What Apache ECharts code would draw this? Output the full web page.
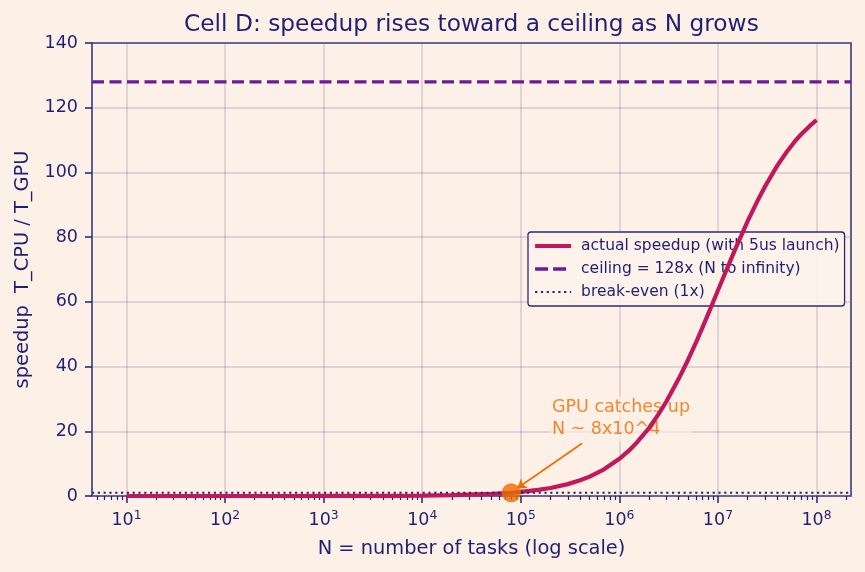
<!DOCTYPE html>
<html>
<head>
<meta charset="utf-8">
<script src="https://cdn.jsdelivr.net/npm/echarts@6/dist/echarts.min.js"></script>
<style>
  html, body { margin: 0; padding: 0; background: #fdf1e7; }
  #main { width: 865px; height: 572px; }
</style>
</head>
<body>
<div id="main"></div>
<script>
// values
var taskCounts = [10, 20, 50, 100, 200, 500, 1e3, 2e3, 5e3, 1e4, 2e4, 5e4, 8e4,
  1e5, 1.5e5, 2e5, 3e5, 4e5, 5e5, 7e5,
  1e6, 1.25e6, 1.5e6, 2e6, 2.5e6, 3e6, 4e6, 5e6, 6e6, 7e6, 8.5e6,
  1e7, 1.25e7, 1.5e7, 2e7, 2.5e7, 3e7, 4e7, 5e7, 6e7, 7e7, 8.5e7, 1e8];
var speedup = [0.0001, 0.0003, 0.0006, 0.001, 0.003, 0.006, 0.013, 0.025, 0.063, 0.13, 0.25, 0.63, 1.0,
  1.25, 1.87, 2.47, 3.67, 4.86, 6.0, 8.25,
  11.5, 14.0, 16.5, 21.0, 25.3, 29.2, 36.2, 42.2, 47.5, 52.2, 58.3,
  63.5, 70.6, 76.3, 84.9, 91.0, 95.6, 102.1, 106.4, 109.5, 111.8, 114.3, 116.2];
var ceiling = 128;
var breakEven = 1;
var catchUp = [8e4, 1.0];
var xMin = 4.47, xMax = 2.24e8;
var decadeTicks = [10, 100, 1e3, 1e4, 1e5, 1e6, 1e7, 1e8];

var navy = '#1f1f73';
var gridColor = 'rgba(110,90,150,0.27)';

// minor ticks at 2..9 x 10^k inside the axis range
var minorTicks = [];
for (var k = 0; k <= 8; k++) {
  for (var m = 2; m <= 9; m++) {
    var v = m * Math.pow(10, k);
    if (v >= xMin && v <= xMax) minorTicks.push(v);
  }
}

var chart = echarts.init(document.getElementById('main'));
chart.setOption({
  backgroundColor: '#fdf1e7',
  animation: false,
  textStyle: { fontFamily: 'DejaVu Sans' },
  title: {
    text: 'Cell D: speedup rises toward a ceiling as N grows',
    left: 184, top: 13, padding: 0,
    textStyle: { color: navy, fontSize: 23.3, fontWeight: 'normal', fontFamily: 'DejaVu Sans' }
  },
  grid: { left: 92, right: 14, top: 43, bottom: 76, show: true, borderColor: '#38387e', borderWidth: 1.6 },
  legend: {
    orient: 'vertical', left: 528, top: 232,
    padding: [6, 5, 6, 5], itemGap: 7, itemWidth: 36, itemHeight: 16,
    backgroundColor: 'rgba(253,243,234,0.9)', borderColor: '#2a2a7a', borderWidth: 1.3, borderRadius: 3,
    itemStyle: { opacity: 0 },
    textStyle: { color: navy, fontSize: 15.5, fontFamily: 'DejaVu Sans', padding: [0, 0, 0, 5] },
    data: [
      { name: 'actual speedup (with 5us launch)', lineStyle: { width: 4.2 } },
      { name: 'ceiling = 128x (N to infinity)', lineStyle: { width: 3.3, type: [13, 5] } },
      { name: 'break-even (1x)', lineStyle: { width: 2.2 } }
    ]
  },
  xAxis: [{
    type: 'log', min: xMin, max: xMax, logBase: 10,
    name: 'N = number of tasks (log scale)', nameLocation: 'middle', nameGap: 43,
    nameTextStyle: { color: navy, fontSize: 19.4, fontFamily: 'DejaVu Sans' },
    axisLine: { show: false },
    axisTick: { show: true, length: 7, customValues: decadeTicks, lineStyle: { color: navy, width: 1.5 } },
    axisLabel: {
      customValues: decadeTicks, margin: 14,
      formatter: function (v) { return '{b|10}{s|' + Math.round(Math.log10(v)) + '}'; },
      rich: {
        b: { color: navy, fontSize: 17.5, lineHeight: 21, fontFamily: 'DejaVu Sans' },
        s: { color: navy, fontSize: 12.3, lineHeight: 14, verticalAlign: 'top', fontFamily: 'DejaVu Sans' }
      }
    },
    splitLine: { show: true, lineStyle: { color: gridColor, width: 1.5 } }
  }, {
    type: 'log', min: xMin, max: xMax, logBase: 10, position: 'bottom',
    axisLine: { show: false },
    axisTick: { show: true, length: 4, customValues: minorTicks, lineStyle: { color: navy, width: 1.2 } },
    axisLabel: { show: false },
    splitLine: { show: false }
  }],
  yAxis: {
    type: 'value', min: 0, max: 140, interval: 20,
    name: 'speedup  T_CPU / T_GPU', nameLocation: 'middle', nameGap: 60,
    nameTextStyle: { color: navy, fontSize: 19.4, fontFamily: 'DejaVu Sans' },
    axisLine: { show: false },
    axisTick: { show: true, length: 7, lineStyle: { color: navy, width: 1.5 } },
    axisLabel: { color: navy, fontSize: 17.5, margin: 14 },
    splitLine: { show: true, lineStyle: { color: gridColor, width: 1.5 } }
  },
  series: [{
    name: 'note', type: 'scatter', z: 2, symbolSize: 1,
    itemStyle: { color: 'rgba(0,0,0,0)' },
    data: [[2e5, 16.8]],
    label: {
      show: true, position: [0, 0], align: 'left', verticalAlign: 'bottom',
      formatter: 'GPU catches up\nN ~ 8x10^4',
      color: '#ef6c00', fontSize: 17.5, lineHeight: 22.5, fontFamily: 'DejaVu Sans',
      backgroundColor: 'rgba(253,241,231,0.75)', padding: [0, 2, 0, 2]
    }
  }, {
    name: 'break-even (1x)', type: 'line', symbol: 'none', z: 5,
    data: [[xMin, breakEven], [xMax, breakEven]],
    lineStyle: { color: '#26266e', width: 2.2, type: [2.2, 3.6] }, itemStyle: { color: '#26266e' }
  }, {
    name: 'ceiling = 128x (N to infinity)', type: 'line', symbol: 'none', z: 3,
    data: [[xMin, ceiling], [xMax, ceiling]],
    lineStyle: { color: '#6a1b9a', width: 3.3, type: [12, 5.5] }, itemStyle: { color: '#6a1b9a' }
  }, {
    name: 'actual speedup (with 5us launch)', type: 'line', symbol: 'none', z: 4,
    data: taskCounts.map(function (n, i) { return [n, speedup[i]]; }),
    lineStyle: { color: '#c2185b', width: 4.2 }, itemStyle: { color: '#c2185b' }
  }, {
    name: 'catch-up', type: 'scatter', z: 6, symbolSize: 19,
    data: [catchUp],
    itemStyle: { color: '#ef6c00' },
    markLine: {
      silent: true, symbol: ['none', 'arrow'], symbolSize: 9,
      lineStyle: { color: '#ef6c00', width: 1.6, type: 'solid' },
      label: { show: false },
      data: [[{ coord: [4.2e5, 16.3] }, { coord: [9.2e4, 2.4] }]]
    }
  }]
});
</script>
</body>
</html>
